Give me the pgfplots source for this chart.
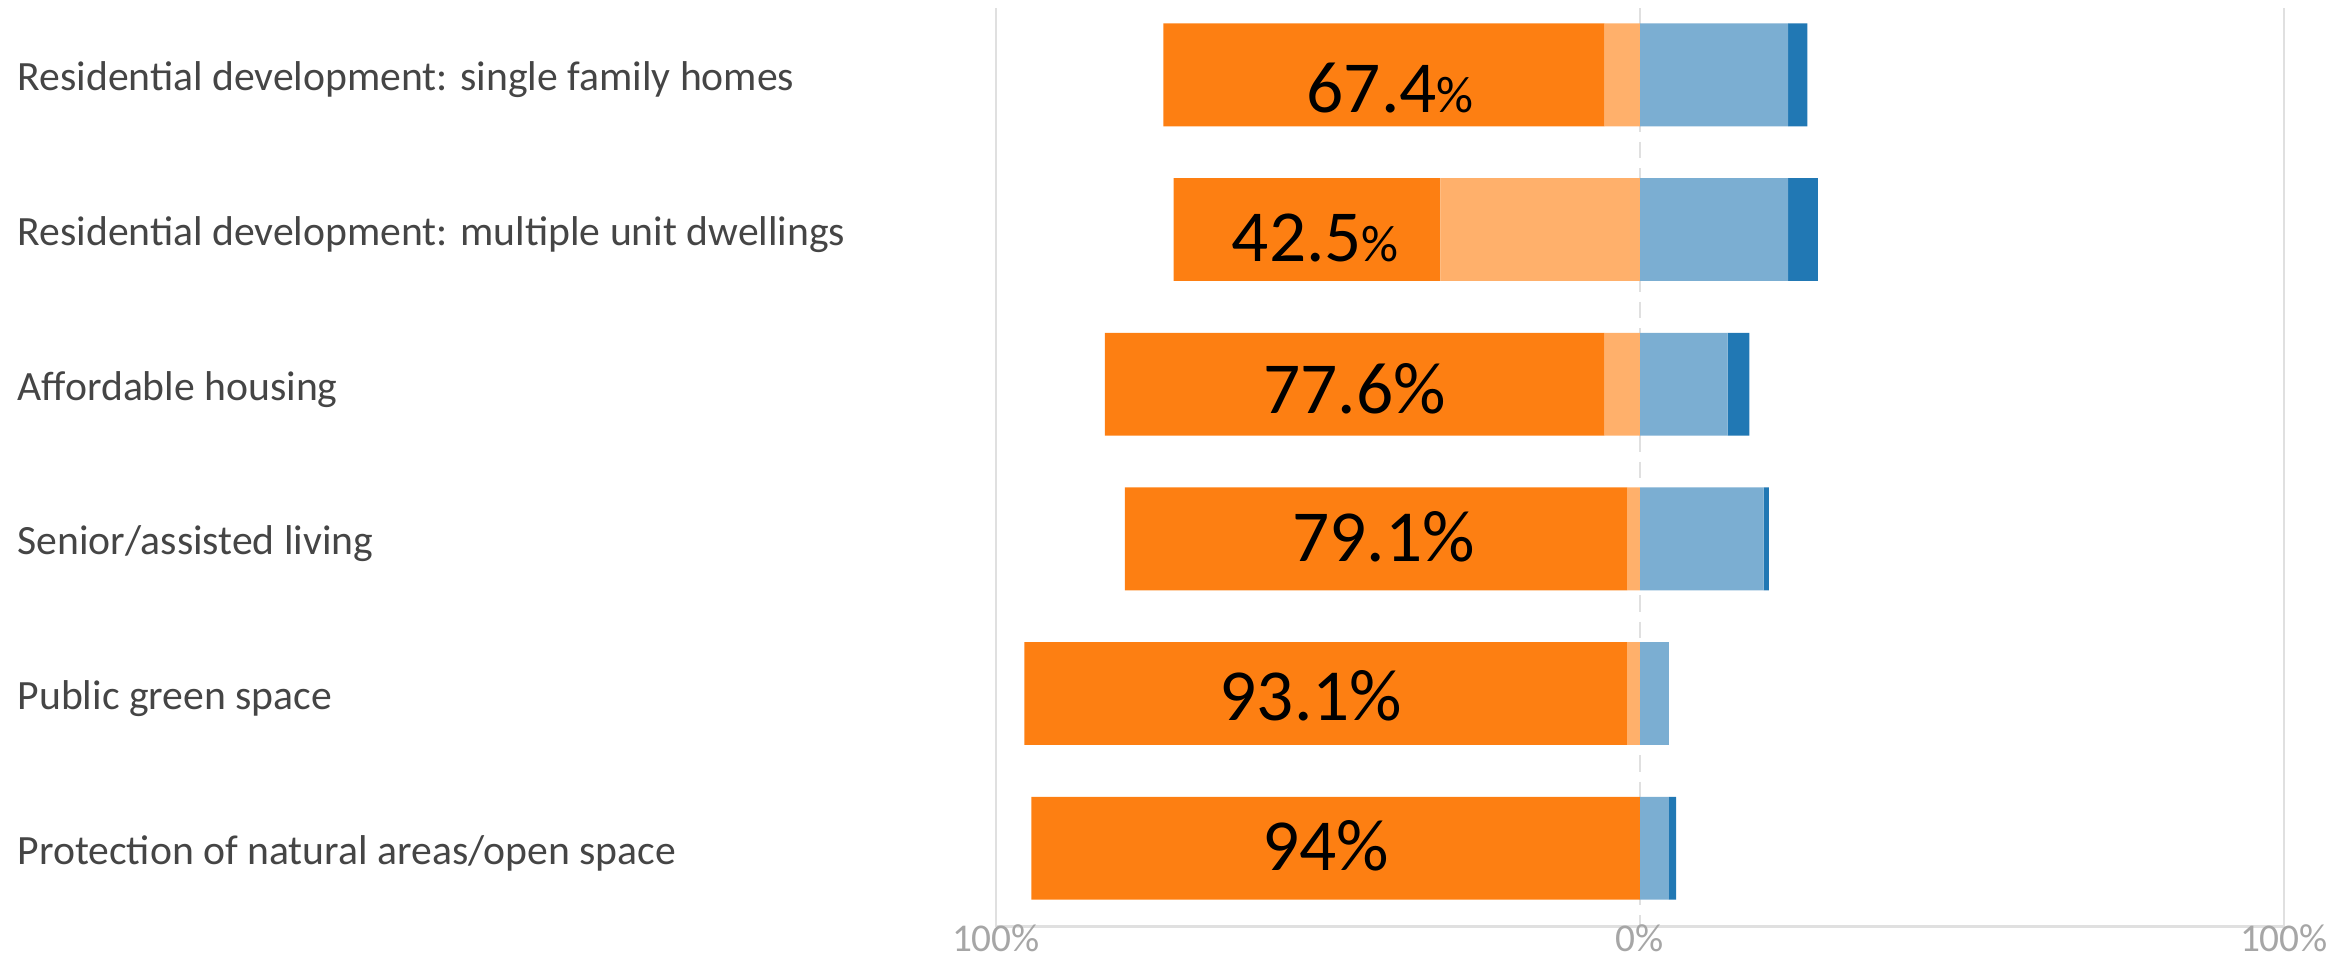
\documentclass[border=0pt]{standalone}
\usepackage{pgfplots}
\usepackage{pgfplotstable}
\pgfplotsset{compat=1.18}
\usepackage{fontspec}
\setmainfont{Carlito}
\definecolor{dorange}{HTML}{FD7F12}
\definecolor{lorange}{HTML}{FFB06B}
\definecolor{lblue}{HTML}{7BAED2}
\definecolor{dblue}{HTML}{2178B4}
\definecolor{labgray}{HTML}{454545}
\definecolor{tickgray}{HTML}{A6A6A6}
\definecolor{gridgray}{HTML}{E0E0E0}

\pgfplotstableread{
y   LO    DO    LB    DB
0  -5.5  -68.5  23.0  3.0
1  -31.0 -41.4  23.0  4.6
2  -5.5  -77.6  13.6  3.4
3  -2.0  -78.0  19.2  0.8
4  -2.0  -93.6   4.5  0.0
5   0.0  -94.5   4.5  1.1
}\data

\pgfplotsset{base/.style={
  scale only axis, width=386.4pt, height=275.5pt,
  xmin=-100, xmax=100, ymin=-0.43, ymax=5.507, y dir=reverse,
  xbar stacked, bar width=0.665,
}}
\tikzset{blab/.style={font=\fontsize{22}{24}\selectfont, inner sep=0pt, text=black}}
\newcommand{\smallpct}{{\fontsize{15.5}{16}\selectfont\%}}

\begin{document}
\begin{tikzpicture}
\begin{axis}[base, name=ax,
  xtick={-100,100}, xticklabels={100\%,100\%},
  extra x ticks={0}, extra x tick labels={0\%},
  extra x tick style={major grid style={draw=gridgray, line width=0.8pt, dash pattern=on 5pt off 3pt}},
  xmajorgrids, major grid style={draw=gridgray, line width=0.8pt},
  ytick={0,1,2,3,4,5},
  yticklabels={Residential development: single family homes,
               Residential development: multiple unit dwellings,
               Affordable housing,
               Senior/assisted living,
               Public green space,
               Protection of natural areas/open space},
  major tick length=0pt,
  axis x line*=bottom, axis y line*=left,
  x axis line style={-, draw=gridgray, line width=1pt},
  y axis line style={draw=none},
  yticklabel style={anchor=west, inner sep=0pt, xshift=-293.7pt, yshift=-1.5pt, font=\fontsize{12.5}{14}\selectfont, text=labgray},
  xticklabel style={inner sep=0pt, yshift=0.8pt, font=\fontsize{11.8}{13}\selectfont, text=tickgray},
]
\addplot[fill=lorange, draw=none] table[x=LO, y=y] {\data};
\addplot[fill=dorange, draw=none] table[x=DO, y=y] {\data};
\end{axis}
\begin{axis}[base, hide axis]
\addplot[fill=lblue, draw=none] table[x=LB, y=y] {\data};
\addplot[fill=dblue, draw=none] table[x=DB, y=y] {\data};
\node[blab] at (axis cs:-38.8,0.084) {67.4\smallpct};
\node[blab] at (axis cs:-50.4,1.052) {42.5\smallpct};
\node[blab] at (axis cs:-44.3,2.03) {77.6\%};
\node[blab] at (axis cs:-39.8,2.987) {79.1\%};
\node[blab] at (axis cs:-51.1,4.013) {93.1\%};
\node[blab] at (axis cs:-48.8,4.987) {94\%};
\end{axis}
\pgfresetboundingbox
\path[use as bounding box] ([xshift=-298.8pt,yshift=-9.4pt]ax.south west) rectangle ([xshift=18.6pt,yshift=2.5pt]ax.north east);
\end{tikzpicture}
\end{document}
